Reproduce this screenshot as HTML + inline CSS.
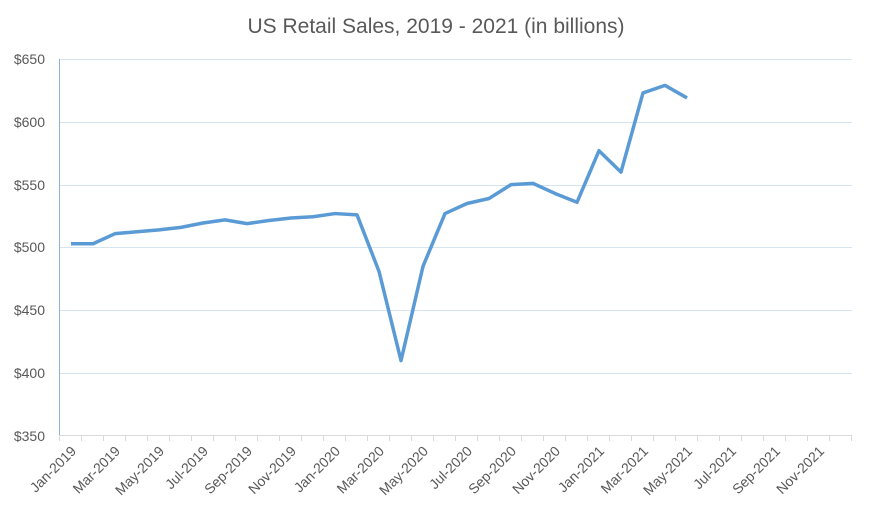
<!DOCTYPE html>
<html><head><meta charset="utf-8"><style>
body{margin:0;background:#fff}
svg{display:block;font-family:"Liberation Sans",sans-serif}
</style></head><body>
<svg width="871" height="511" xmlns="http://www.w3.org/2000/svg">
<text x="436" y="33" text-anchor="middle" font-size="21" fill="#595959">US Retail Sales, 2019 - 2021 (in billions)</text>
<g stroke="#d6e4f0" stroke-width="1">
<line x1="59" x2="852" y1="59.5" y2="59.5"/>
<line x1="59" x2="852" y1="122.5" y2="122.5"/>
<line x1="59" x2="852" y1="185.5" y2="185.5"/>
<line x1="59" x2="852" y1="247.5" y2="247.5"/>
<line x1="59" x2="852" y1="310.5" y2="310.5"/>
<line x1="59" x2="852" y1="373.5" y2="373.5"/>
</g>
<line x1="59.5" x2="59.5" y1="59" y2="436" stroke="#8fb0d6"/>
<line x1="59" x2="852" y1="435.5" y2="435.5" stroke="#d9d9d9"/>
<g stroke="#d9d9d9">
<path d="M59.5 435v6M81.5 435v6M103.5 435v6M125.5 435v6M147.5 435v6M169.5 435v6M191.5 435v6M213.5 435v6M235.5 435v6M257.5 435v6M279.5 435v6M301.5 435v6M323.5 435v6M345.5 435v6M367.5 435v6M389.5 435v6M411.5 435v6M433.5 435v6M455.5 435v6M477.5 435v6M499.5 435v6M521.5 435v6M543.5 435v6M565.5 435v6M587.5 435v6M609.5 435v6M631.5 435v6M653.5 435v6M675.5 435v6M697.5 435v6M719.5 435v6M741.5 435v6M763.5 435v6M785.5 435v6M807.5 435v6M829.5 435v6M851.5 435v6"/>
</g>
<g font-size="14" fill="#595959" text-anchor="end">
<text x="45" y="64">$650</text>
<text x="45" y="127">$600</text>
<text x="45" y="190">$550</text>
<text x="45" y="252">$500</text>
<text x="45" y="315">$450</text>
<text x="45" y="378">$400</text>
<text x="45" y="441">$350</text>
</g>
<g font-size="14" fill="#595959" text-anchor="end">
<text transform="translate(77,452) rotate(-45)">Jan-2019</text>
<text transform="translate(121,452) rotate(-45)">Mar-2019</text>
<text transform="translate(165,452) rotate(-45)">May-2019</text>
<text transform="translate(209,452) rotate(-45)">Jul-2019</text>
<text transform="translate(253,452) rotate(-45)">Sep-2019</text>
<text transform="translate(297,452) rotate(-45)">Nov-2019</text>
<text transform="translate(341,452) rotate(-45)">Jan-2020</text>
<text transform="translate(385,452) rotate(-45)">Mar-2020</text>
<text transform="translate(429,452) rotate(-45)">May-2020</text>
<text transform="translate(473,452) rotate(-45)">Jul-2020</text>
<text transform="translate(517,452) rotate(-45)">Sep-2020</text>
<text transform="translate(561,452) rotate(-45)">Nov-2020</text>
<text transform="translate(605,452) rotate(-45)">Jan-2021</text>
<text transform="translate(649,452) rotate(-45)">Mar-2021</text>
<text transform="translate(693,452) rotate(-45)">May-2021</text>
<text transform="translate(737,452) rotate(-45)">Jul-2021</text>
<text transform="translate(781,452) rotate(-45)">Sep-2021</text>
<text transform="translate(825,452) rotate(-45)">Nov-2021</text>
</g>
<g transform="translate(71,436) scale(22,-1.2567)">
<polyline fill="none" stroke="#5b9bd5" stroke-width="3.5" stroke-linejoin="round" vector-effect="non-scaling-stroke"
points="0,153 1,153 2,161 3,162.5 4,164 5,166 6,169.5 7,172 8,169 9,171.5 10,173.5 11,174.5 12,177 13,176 14,131 15,60 16,135 17,177 18,185 19,189 20,200 21,201 22,193 23,186 24,227 25,210 26,273 27,279 28,269"/>
</g>
</svg>
</body></html>
